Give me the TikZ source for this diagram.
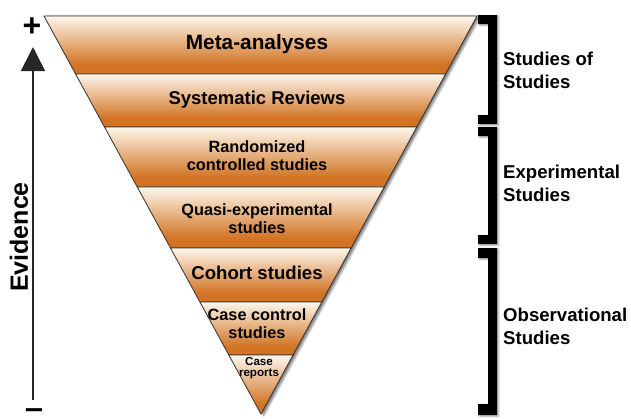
\documentclass[tikz,border=0pt]{standalone}
\usepackage{fontspec}
\setmainfont{Liberation Sans}
\usetikzlibrary{calc,arrows.meta,shadows.blur}

\definecolor{bandorange}{RGB}{210,116,36}
\definecolor{bandlight}{RGB}{253,247,236}
\definecolor{edgegray}{RGB}{50,50,50}

% light at the top of each band, full orange near its bottom
\pgfdeclareverticalshading{bandshade}{100bp}{%
  color(0bp)=(bandorange); color(33bp)=(bandorange);
  color(75bp)=(bandlight); color(100bp)=(bandlight)}

\tikzset{
  band/.style={shading=bandshade, draw=edgegray, line width=0.8pt, line join=round},
  lbl/.style={font=\bfseries\fontsize{#1}{#1}\selectfont, inner sep=0pt, align=center},
  lbl/.default=16.3,
  side/.style={font=\bfseries\fontsize{18.6}{23}\selectfont, inner sep=0pt, align=left, anchor=west},
  bracket/.style={fill=black, blur shadow={shadow xshift=1.5pt, shadow yshift=-1pt, shadow blur radius=2pt, shadow opacity=40}},
}

\begin{document}
\begin{tikzpicture}[x=1pt, y=-1pt]
\useasboundingbox (0,0) rectangle (631,418);

% corners of the inverted pyramid
\coordinate (TL) at (44,16);
\coordinate (TR) at (477,16);
\coordinate (AP) at (261,414);
\foreach \n/\t in {1/0.1457, 2/0.2789, 3/0.4296, 4/0.5829, 5/0.7186, 6/0.8518} {
  \coordinate (L\n) at ($(TL)!\t!(AP)$);
  \coordinate (R\n) at ($(TR)!\t!(AP)$);
}

% shadow under the whole pyramid
\path[fill=white, blur shadow={shadow xshift=2.5pt, shadow yshift=-1pt, shadow blur radius=2.5pt, shadow opacity=60}]
  (TL) -- (TR) -- (AP) -- cycle;

% levels of the pyramid
\shade[band] (TL) -- (TR) -- (R1) -- (L1) -- cycle;
\shade[band] (L1) -- (R1) -- (R2) -- (L2) -- cycle;
\shade[band] (L2) -- (R2) -- (R3) -- (L3) -- cycle;
\shade[band] (L3) -- (R3) -- (R4) -- (L4) -- cycle;
\shade[band] (L4) -- (R4) -- (R5) -- (L5) -- cycle;
\shade[band] (L5) -- (R5) -- (R6) -- (L6) -- cycle;
\shade[band] (L6) -- (R6) -- (AP) -- cycle;

% level labels
\node[lbl=20.8] (meta) at (257,44) {Meta-analyses};
\node[lbl=18.5] (sysrev) at (257,100) {Systematic Reviews};
\node[lbl, font=\bfseries\fontsize{16.3}{18}\selectfont] (rct) at (257,156) {Randomized\\controlled studies};
\node[lbl, font=\bfseries\fontsize{16.3}{18}\selectfont] (quasi) at (257,219) {Quasi-experimental\\studies};
\node[lbl=18.6] (cohort) at (257,273) {Cohort studies};
\node[lbl, font=\bfseries\fontsize{16.3}{18}\selectfont] (casectl) at (257,324) {Case control\\studies};
\node[lbl, font=\bfseries\fontsize{11.6}{11}\selectfont] (caserep) at (259,368.5) {Case\\reports};

% group brackets
\fill[bracket] (478,15) -- (497,15) -- (497,124) -- (478,124) -- (478,115) -- (488,115) -- (488,24) -- (478,24) -- cycle;
\fill[bracket] (478,127) -- (497,127) -- (497,244) -- (478,244) -- (478,235) -- (488,235) -- (488,136) -- (478,136) -- cycle;
\fill[bracket] (478,248) -- (497,248) -- (497,415) -- (478,415) -- (478,404) -- (488,404) -- (488,258) -- (478,258) -- cycle;

\node[side] (g1) at (503,70) {Studies of\\Studies};
\node[side] (g2) at (503,183) {Experimental\\Studies};
\node[side] (g3) at (503,326) {Observational\\Studies};

% evidence axis
\coordinate (axbot) at (33,400);
\coordinate (axtop) at (33,47);
\draw[line width=1.6pt, draw=black!85, -{Triangle[width=24pt, length=24pt]}] (axbot) -- (axtop);
\node[font=\bfseries\fontsize{32}{32}\selectfont, inner sep=0pt] (plus) at (32,27) {+};
\node[font=\bfseries\fontsize{28}{28}\selectfont, inner sep=0pt, xscale=1.15] (minus) at (34,414) {−};
\node[font=\bfseries\fontsize{25}{25}\selectfont, inner sep=0pt, rotate=90] (evid) at (19,237) {Evidence};
\end{tikzpicture}
\end{document}
